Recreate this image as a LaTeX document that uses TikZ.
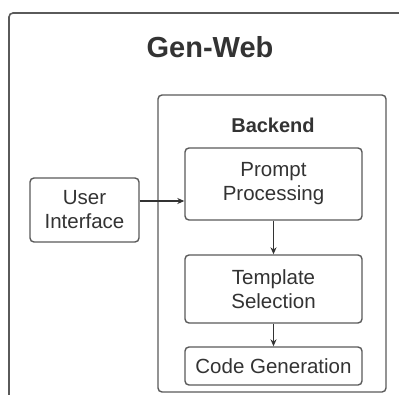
\documentclass[tikz,border=0pt]{standalone}
\usepackage{fontspec}
\setmainfont{Liberation Sans}
\usetikzlibrary{arrows.meta,positioning}

\definecolor{edgegray}{HTML}{5A5A5A}
\definecolor{inkgray}{HTML}{333333}

\tikzset{
  box/.style={draw=edgegray, line width=1.4pt, rounded corners=4pt, text=inkgray,
    align=center, inner sep=0pt, font=\fontsize{20.5}{24}\selectfont},
  flow/.style={draw=inkgray, line width=1.1pt, -{Stealth[length=7pt,width=6pt]}}
}

\begin{document}
\begin{tikzpicture}[x=1pt, y=-1pt]
  \useasboundingbox (0,0) rectangle (399,394);
  \clip (0,0) rectangle (399,394);
  \fill[white] (0,0) rectangle (399,394);

  % Gen-Web (the whole system), cut off at the right and bottom
  \draw[edgegray, line width=1.6pt, rounded corners=4pt] (9,13) rectangle (430,430);
  \node[text=inkgray, font=\fontsize{29}{34}\selectfont\bfseries] (title) at (210,47) {Gen-Web};

  % Backend panel
  \node[box, minimum width=228pt, minimum height=297pt] (backend) at (272,243.5) {};
  \node[text=inkgray, font=\fontsize{20}{24}\selectfont\bfseries] (backendlabel) at (273,125) {Backend};

  % Stages
  \node[box, minimum width=109pt, minimum height=64pt] (ui) at (84.5,210) {User\\Interface};
  \node[box, minimum width=177pt, minimum height=72pt] (prompt) at (273.5,184) {Prompt\\Processing};
  \node[box, minimum width=177pt, minimum height=68pt] (template) at (273.5,289) {Template\\Selection};
  \node[box, minimum width=177pt, minimum height=38pt] (codegen) at (273.5,366) {Code Generation};

  % Connectors
  \draw[flow] ([yshift=9pt]ui.east) -- ([yshift=9pt]ui.east -| prompt.west);
  \draw[flow] (prompt) -- (template);
  \draw[flow] (template) -- (codegen);
\end{tikzpicture}
\end{document}
